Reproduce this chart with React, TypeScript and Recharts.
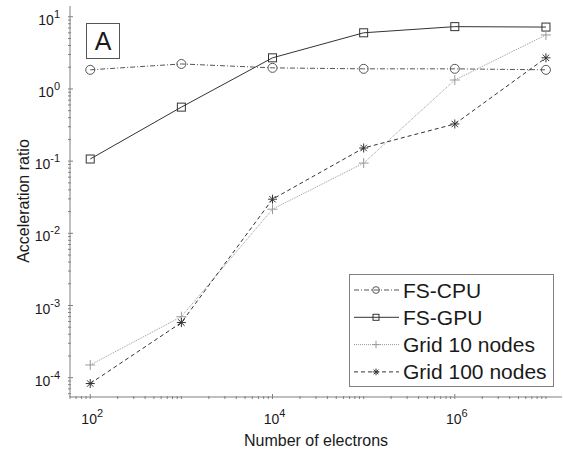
import React from 'react';
import { LineChart, Line, XAxis, YAxis, Legend } from 'recharts';

// number of electrons (x) and acceleration ratios for each method
const electrons = [1e2, 1e3, 1e4, 1e5, 1e6, 1e7];
const fsCpu = [1.84, 2.22, 1.96, 1.9, 1.9, 1.84];
const fsGpu = [0.107, 0.56, 2.7, 6.0, 7.3, 7.2];
const grid10 = [1.5e-4, 7.0e-4, 0.0216, 0.094, 1.33, 5.6];
const grid100 = [8.3e-5, 5.8e-4, 0.0297, 0.152, 0.327, 2.7];

const xDomain = [60, 1.5e7];
const yDomain = [5.4e-5, 14.1];

const FONT = '"Liberation Sans", Arial, Helvetica, sans-serif';
const AXIS = '#808080';
const TEXT = '#1a1a1a';

const data = electrons.map((n, i) => ({
  n,
  cpu: fsCpu[i],
  gpu: fsGpu[i],
  g10: grid10[i],
  g100: grid100[i],
}));

// decade ticks plus the 2..9 minor ticks, inside the domain
const logTicks = (lo: number, hi: number) => {
  const out: number[] = [];
  for (let e = Math.floor(Math.log10(lo)); e <= Math.ceil(Math.log10(hi)); e++) {
    for (let m = 1; m < 10; m++) {
      const v = m * Math.pow(10, e);
      if (v >= lo && v <= hi) out.push(v);
    }
  }
  return out;
};
const xTicks = logTicks(xDomain[0], xDomain[1]);
const yTicks = logTicks(yDomain[0], yDomain[1]);

const decade = (v: number) => {
  const l = Math.log10(v);
  return Math.abs(l - Math.round(l)) < 1e-6 ? Math.round(l) : null;
};

const Pow = ({ e }: { e: number }) => (
  <>
    10<tspan dy={-7} fontSize={11}>{e}</tspan>
  </>
);

const BottomTick = ({ x, y, payload }: any) => {
  const e = decade(payload.value);
  const major = e !== null && e % 2 === 0;
  return (
    <g>
      <line x1={x} x2={x} y1={y} y2={y - (major ? 5 : 3)} stroke={AXIS} />
      {major && (
        <text x={x + 2} y={y + 25} textAnchor="middle" fontSize={14} fill={TEXT} fontFamily={FONT}>
          <Pow e={e as number} />
        </text>
      )}
    </g>
  );
};

const TopTick = ({ x, y, payload }: any) => {
  const e = decade(payload.value);
  const major = e !== null && e % 2 === 0;
  return <line x1={x} x2={x} y1={y} y2={y + (major ? 5 : 3)} stroke={AXIS} />;
};

const LeftTick = ({ x, y, payload }: any) => {
  const e = decade(payload.value);
  const major = e !== null;
  return (
    <g>
      <line x1={x} x2={x + (major ? 5 : 3)} y1={y} y2={y} stroke={AXIS} />
      {major && (
        <text x={x - 8} y={y + 8} textAnchor="end" fontSize={14} fill={TEXT} fontFamily={FONT}>
          <Pow e={e as number} />
        </text>
      )}
    </g>
  );
};

const RightTick = ({ x, y, payload }: any) => {
  const major = decade(payload.value) !== null;
  return <line x1={x} x2={x - (major ? 5 : 3)} y1={y} y2={y} stroke={AXIS} />;
};

const Marker = ({ kind, cx, cy, color, s = 1 }: { kind: string; cx: number; cy: number; color: string; s?: number }) => {
  if (kind === 'circle') return <circle cx={cx} cy={cy} r={4.5 * s} fill="none" stroke={color} />;
  if (kind === 'square')
    return <rect x={cx - 4 * s} y={cy - 4 * s} width={8 * s} height={8 * s} fill="none" stroke={color} />;
  const a = 5 * s;
  if (kind === 'plus')
    return <path d={`M${cx - a},${cy}H${cx + a}M${cx},${cy - a}V${cy + a}`} stroke={color} fill="none" />;
  const b = 4.5 * s;
  const c = 3.2 * s;
  return (
    <path
      d={`M${cx - b},${cy}H${cx + b}M${cx},${cy - b}V${cy + b}M${cx - c},${cy - c}L${cx + c},${cy + c}M${cx - c},${cy + c}L${cx + c},${cy - c}`}
      stroke={color}
      fill="none"
    />
  );
};

const series = [
  { key: 'cpu', name: 'FS-CPU', color: '#555', dash: '5 2 1 2', marker: 'circle' },
  { key: 'gpu', name: 'FS-GPU', color: '#333', dash: undefined, marker: 'square' },
  { key: 'g10', name: 'Grid 10 nodes', color: '#999', dash: '1 1', marker: 'plus' },
  { key: 'g100', name: 'Grid 100 nodes', color: '#333', dash: '4 3', marker: 'star' },
];

const LegendBox = () => (
  <svg width={205} height={113} style={{ display: 'block' }}>
    <rect x={0.5} y={0.5} width={204} height={112} fill="#fff" stroke={AXIS} />
    {series.map((s, i) => {
      const y = 16 + i * 27.3;
      return (
        <g key={s.key}>
          <line x1={5} x2={50} y1={y} y2={y} stroke={s.color} strokeDasharray={s.dash} />
          <Marker kind={s.marker} cx={27} cy={y} color={s.color} s={0.75} />
          <text x={54} y={y + 7.5} fontSize={21} fill={TEXT} fontFamily={FONT}>
            {s.name}
          </text>
        </g>
      );
    })}
  </svg>
);

const App = () => {
  return (
    <div style={{ position: 'absolute', left: 0, top: 0, width: 563, height: 451, background: '#fff' }}>
      <LineChart width={563} height={451} data={data} margin={{ top: 6, right: 1, bottom: 0, left: 0 }}>
        <XAxis
          dataKey="n"
          type="number"
          scale="log"
          domain={xDomain}
          allowDataOverflow
          ticks={xTicks}
          interval={0}
          tickSize={0}
          tickLine={false}
          height={54}
          axisLine={{ stroke: AXIS }}
          tick={<BottomTick />}
          label={{
            content: () => (
              <text x={316} y={446} textAnchor="middle" fontSize={16} fill={TEXT} fontFamily={FONT}>
                Number of electrons
              </text>
            ),
          }}
        />
        <XAxis
          xAxisId="top"
          orientation="top"
          type="number"
          scale="log"
          domain={xDomain}
          allowDataOverflow
          ticks={xTicks}
          interval={0}
          tickSize={0}
          tickLine={false}
          height={0}
          axisLine={{ stroke: AXIS }}
          tick={<TopTick />}
        />
        <YAxis
          type="number"
          scale="log"
          domain={yDomain}
          allowDataOverflow
          ticks={yTicks}
          interval={0}
          tickSize={0}
          tickLine={false}
          width={70}
          axisLine={{ stroke: AXIS }}
          tick={<LeftTick />}
          label={{
            content: () => (
              <text
                x={25}
                y={201}
                transform="rotate(-90 25 201)"
                textAnchor="middle"
                dominantBaseline="middle"
                fontSize={16}
                fill={TEXT}
                fontFamily={FONT}
              >
                Acceleration ratio
              </text>
            ),
          }}
        />
        <YAxis
          yAxisId="right"
          orientation="right"
          type="number"
          scale="log"
          domain={yDomain}
          allowDataOverflow
          ticks={yTicks}
          interval={0}
          tickSize={0}
          tickLine={false}
          width={0}
          axisLine={{ stroke: AXIS }}
          tick={<RightTick />}
        />
        {series.map((s) => (
          <Line
            key={s.key}
            dataKey={s.key}
            name={s.name}
            type="linear"
            stroke={s.color}
            strokeWidth={1}
            strokeDasharray={s.dash}
            isAnimationActive={false}
            activeDot={false}
            dot={(p: any) => <Marker key={`${s.key}-${p.index}`} kind={s.marker} cx={p.cx} cy={p.cy} color={s.color} />}
          />
        ))}
        <Legend
          layout="vertical"
          align="center"
          verticalAlign="middle"
          content={<LegendBox />}
          wrapperStyle={{ position: 'absolute', left: 349, top: 274, width: 205, height: 113 }}
        />
      </LineChart>
      <div
        style={{
          position: 'absolute',
          left: 86,
          top: 23,
          width: 32,
          height: 34,
          border: `1px solid #555`,
          background: '#fff',
          fontFamily: FONT,
          fontSize: 25,
          lineHeight: '34px',
          textAlign: 'center',
          color: TEXT,
        }}
      >
        A
      </div>
    </div>
  );
};

export default App;
